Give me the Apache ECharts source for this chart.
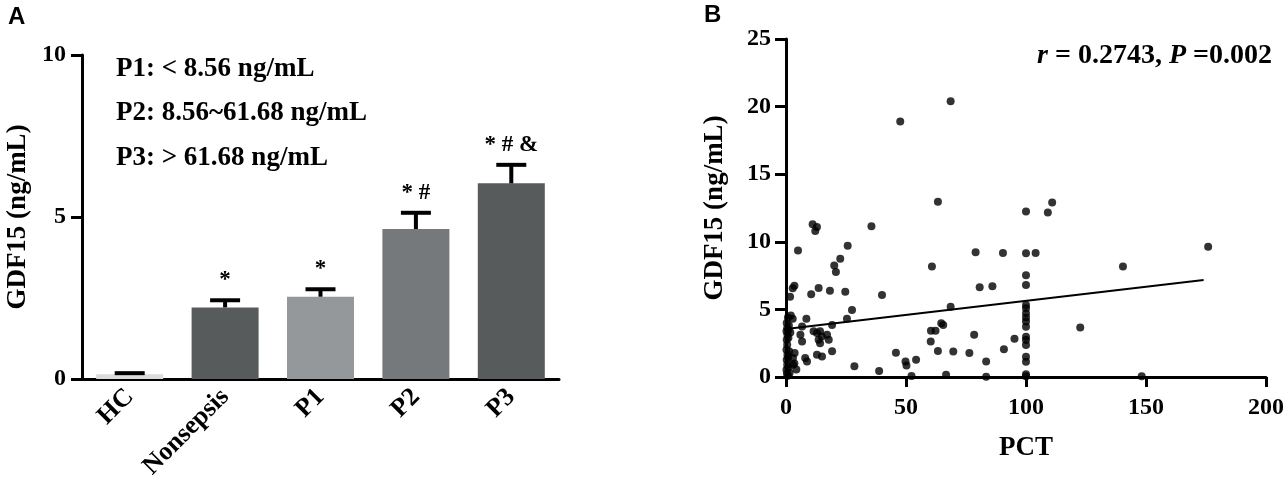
<!DOCTYPE html>
<html>
<head>
<meta charset="utf-8">
<script src="https://cdn.jsdelivr.net/npm/echarts@6/dist/echarts.min.js"></script>
<style>
  html, body { margin: 0; padding: 0; background: #fff; }
  #main { width: 1288px; height: 495px; }
</style>
</head>
<body>
<div id="main"></div>
<script>
// panel A: group means with upper error (SEM)
var groups = ['HC', 'Nonsepsis', 'P1', 'P2', 'P3'];
var means = [0.15, 2.21, 2.54, 4.63, 6.04];
var upperErr = [0.03, 0.22, 0.23, 0.5, 0.57];
var sigMarks = ['', '*', '*', '* #', '* # &'];
var barColors = ['#dadcdc', '#575b5c', '#95989a', '#75797b', '#575b5c'];
var yTicksA = [0, 5, 10];

// panel B: PCT vs GDF15
var pctGdf = [
  [0.3, 4.0], [0.5, 3.62], [0.2, 3.38], [0.6, 3.13], [0.3, 2.76], [0.5, 2.39],
  [0.2, 2.02], [0.6, 1.65], [0.3, 1.28], [0.5, 0.91], [0.2, 0.54], [0.4, 0.24],
  [0.8, 0.1], [1.0, 3.5], [1.2, 3.8], [1.0, 2.9], [1.3, 1.9], [1.0, 0.7],
  [0.8, 4.4], [1.5, 0.3], [0.9, 1.45], [1.8, 3.3],
  [1.7, 5.94], [2.8, 6.56], [3.5, 6.75], [2.0, 4.55], [2.8, 4.3],
  [3.6, 1.77], [2.9, 1.4], [2.9, 0.9], [4.3, 0.55], [3.5, 1.0],
  [6.7, 3.74], [6.0, 3.13], [6.7, 2.63], [5.0, 9.36], [8.5, 4.3],
  [8.0, 1.4], [8.75, 1.15], [10.5, 6.12],
  [11.1, 11.3], [12.9, 11.1], [12.2, 10.8],
  [11.5, 3.38], [12.9, 3.25], [14.2, 3.38], [14.9, 3.0], [13.6, 2.76], [14.2, 2.5],
  [17.1, 3.13], [17.8, 2.76], [13.6, 6.58], [12.9, 1.65], [15.0, 1.52],
  [18.3, 6.38], [19.2, 3.85], [19.2, 1.9], [20.1, 8.24], [20.8, 7.76],
  [22.6, 8.75], [24.7, 6.3], [25.4, 4.3], [27.5, 4.96], [25.7, 9.7], [28.5, 0.79],
  [35.6, 11.15], [38.8, 0.45], [40.0, 6.06], [45.8, 1.8], [47.6, 18.9],
  [49.8, 1.15], [50.2, 0.85], [52.3, 0.07], [54.2, 1.28],
  [60.3, 2.62], [60.4, 3.42], [62.3, 3.42], [60.8, 8.18], [63.3, 12.97], [63.3, 1.93],
  [64.7, 3.98], [65.5, 3.85], [66.7, 0.16], [68.6, 5.19], [68.6, 20.4], [69.7, 1.88],
  [76.4, 1.78], [78.4, 3.12], [79.0, 9.22], [80.7, 6.64], [86.0, 6.72],
  [83.4, 1.14], [83.4, 0.02], [90.4, 9.18], [90.8, 2.06], [95.2, 2.82],
  [100, 12.25], [100, 9.15], [104, 9.18], [100, 7.52], [100, 6.8],
  [100, 5.33], [100, 5.08], [100, 4.71], [100, 4.4], [100, 4.1], [100, 3.72],
  [100, 2.98], [100, 2.74], [100, 2.37], [100, 1.5], [100, 1.13], [100, 0.2], [100, 0.05],
  [109.1, 12.17], [110.9, 12.9], [122.6, 3.66], [140.4, 8.18], [148.2, 0.05], [175.9, 9.64]
];
var trendLine = [[0, 3.55], [174, 7.18]];
var xTicksB = [0, 50, 100, 150, 200];
var yTicksB = [0, 5, 10, 15, 20, 25];

var serif = '"Liberation Serif", "Times New Roman", serif';
var labelStyle = {color: '#000', fontFamily: serif, fontWeight: 'bold', fontSize: 24};
var nameStyle = {color: '#000', fontFamily: serif, fontWeight: 'bold', fontSize: 27};
var lineStyle = {color: '#000', width: 3};

var myChart = echarts.init(document.getElementById('main'));
myChart.setOption({
  animation: false,
  backgroundColor: '#fff',
  grid: [
    {left: 82, top: 55, width: 477, height: 324},
    {left: 786, top: 39, width: 480, height: 338}
  ],
  xAxis: [
    {
      gridIndex: 0,
      type: 'category',
      data: groups,
      axisLine: {lineStyle: lineStyle},
      axisTick: {alignWithLabel: true, length: 10, lineStyle: lineStyle},
      axisLabel: Object.assign({rotate: 45, margin: 14, interval: 0}, labelStyle, {fontSize: 26})
    },
    {
      gridIndex: 1,
      type: 'value',
      min: xTicksB[0],
      max: xTicksB[xTicksB.length - 1],
      interval: 50,
      splitLine: {show: false},
      axisLine: {lineStyle: lineStyle},
      axisTick: {length: 10, lineStyle: lineStyle},
      axisLabel: Object.assign({margin: 19, showMinLabel: true, showMaxLabel: true}, labelStyle),
      name: 'PCT',
      nameLocation: 'middle',
      nameGap: 58,
      nameTextStyle: nameStyle
    }
  ],
  yAxis: [
    {
      gridIndex: 0,
      type: 'value',
      min: yTicksA[0],
      max: yTicksA[yTicksA.length - 1],
      interval: 5,
      splitLine: {show: false},
      axisLine: {show: true, lineStyle: lineStyle},
      axisTick: {show: true, length: 11, lineStyle: lineStyle},
      axisLabel: Object.assign({margin: 16, showMinLabel: true, showMaxLabel: true}, labelStyle),
      name: 'GDF15 (ng/mL)',
      nameLocation: 'middle',
      nameGap: 50,
      nameTextStyle: nameStyle
    },
    {
      gridIndex: 1,
      type: 'value',
      min: yTicksB[0],
      max: yTicksB[yTicksB.length - 1],
      interval: 5,
      splitLine: {show: false},
      axisLine: {show: true, lineStyle: lineStyle},
      axisTick: {show: true, length: 11, lineStyle: lineStyle},
      axisLabel: Object.assign({margin: 15, showMinLabel: true, showMaxLabel: true}, labelStyle),
      name: 'GDF15 (ng/mL)',
      nameLocation: 'middle',
      nameGap: 57,
      nameTextStyle: nameStyle
    }
  ],
  graphic: [
    {type: 'text', left: 8, top: 5, style: {text: 'A', fill: '#000', font: 'bold 24px "Liberation Sans", Arial, sans-serif'}},
    {type: 'text', left: 704, top: 3, style: {text: 'B', fill: '#000', font: 'bold 24px "Liberation Sans", Arial, sans-serif'}},
    {type: 'text', left: 116, top: 56, style: {text: 'P1: < 8.56 ng/mL', fill: '#000', font: 'bold 27px ' + serif}},
    {type: 'text', left: 116, top: 100, style: {text: 'P2: 8.56~61.68 ng/mL', fill: '#000', font: 'bold 27px ' + serif}},
    {type: 'text', left: 116, top: 145, style: {text: 'P3: > 61.68 ng/mL', fill: '#000', font: 'bold 27px ' + serif}},
    {
      type: 'text', right: 16, top: 42,
      style: {
        text: '{i|r} = 0.2743, {i|P} =0.002',
        fill: '#000',
        font: 'bold 28px ' + serif,
        rich: {i: {fontStyle: 'italic', fontWeight: 'bold', fontSize: 28, fontFamily: serif, fill: '#000'}}
      }
    }
  ],
  series: [
    {
      type: 'bar',
      xAxisIndex: 0,
      yAxisIndex: 0,
      barWidth: 67,
      data: means.map(function (v, i) {
        return {value: v, itemStyle: {color: barColors[i]}};
      })
    },
    {
      type: 'custom',
      xAxisIndex: 0,
      yAxisIndex: 0,
      z: 5,
      data: means.map(function (v, i) { return [i, v, v + upperErr[i]]; }),
      renderItem: function (params, api) {
        var base = api.coord([api.value(0), api.value(1)]);
        var top = api.coord([api.value(0), api.value(2)]);
        var half = 15;
        var st = {stroke: '#000', lineWidth: 4};
        return {
          type: 'group',
          children: [
            {type: 'line', shape: {x1: base[0], y1: base[1], x2: top[0], y2: top[1]}, style: st},
            {type: 'line', shape: {x1: top[0] - half, y1: top[1], x2: top[0] + half, y2: top[1]}, style: st},
            {
              type: 'text', x: top[0], y: top[1] - 20,
              style: {
                text: sigMarks[params.dataIndex], fill: '#000',
                font: 'bold 23px ' + serif, align: 'center', verticalAlign: 'middle'
              }
            }
          ]
        };
      }
    },
    {
      type: 'scatter',
      xAxisIndex: 1,
      yAxisIndex: 1,
      symbolSize: 8,
      itemStyle: {color: '#000'},
      data: pctGdf
    },
    {
      type: 'line',
      xAxisIndex: 1,
      yAxisIndex: 1,
      symbol: 'none',
      lineStyle: {color: '#000', width: 2},
      data: trendLine
    }
  ]
});
</script>
</body>
</html>
